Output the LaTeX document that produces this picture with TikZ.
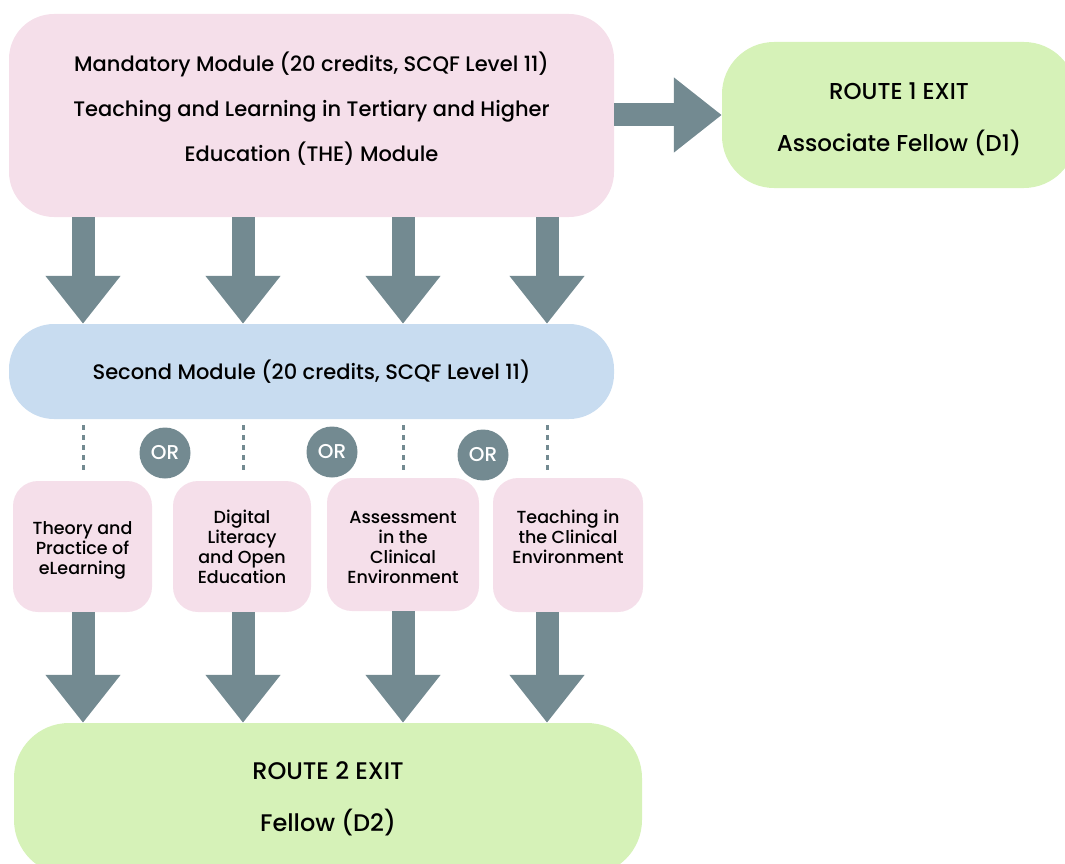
\documentclass[tikz,border=0pt]{standalone}
\usepackage{fontspec}
\setmainfont{Poppins}[UprightFont=* Medium]
\usepackage{xcolor}
\usepackage{tikz}
\usetikzlibrary{arrows.meta,positioning,calc}
\definecolor{modpink}{HTML}{F5DFEA}
\definecolor{modblue}{HTML}{C8DCF0}
\definecolor{exitgreen}{HTML}{D6F2B8}
\definecolor{arrgray}{HTML}{738A91}
\newcommand{\up}[1]{\rule{0pt}{#1}} % strut above
\newcommand{\dn}[1]{\rule[-#1]{0pt}{0pt}} % strut below
\tikzstyle{module} = [fill=modpink, rounded corners=45pt, align=center, inner sep=0pt, font=\fontsize{21}{45}\selectfont]
\tikzstyle{option} = [fill=modpink, rounded corners=25pt, align=center, inner sep=0pt, font=\fontsize{17.5}{20}\selectfont]
\tikzstyle{exit} = [fill=exitgreen, rounded corners=52pt, align=center, inner sep=0pt, font=\fontsize{23}{52}\selectfont]
\tikzstyle{line} = [draw=arrgray, line width=23pt, -{Triangle[width=72pt,length=48pt]}]
\tikzstyle{dots} = [draw=arrgray, line width=3pt, dash pattern=on 5pt off 5pt, shorten <=6pt, shorten >=8pt]
\tikzstyle{ornode} = [circle, fill=arrgray, text=white, minimum size=51pt, inner sep=0pt, font=\fontsize{20}{20}\selectfont]

\begin{document}
\begin{tikzpicture}[x=1pt,y=-1pt]
			\useasboundingbox (0,0) rectangle (1065,864);
			\clip (0,0) rectangle (1065,864);
			
			% columns of the arrows
			\coordinate (c1) at (83,0);
			\coordinate (c2) at (243,0);
			\coordinate (c3) at (403,0);
			\coordinate (c4) at (547,0);
			
			\node[module, minimum width=605pt, minimum height=203pt] (mand) at (311.5,115.5) {Mandatory Module (20 credits, SCQF Level 11)\\Teaching and Learning in Tertiary and Higher\\Education (THE) Module\dn{18pt}}; % first module
			\node[exit, minimum width=354pt, minimum height=146pt] (route1) at (899,115) {\up{24.5pt}ROUTE 1 EXIT\\Associate Fellow (D1)}; % exit 1
			\node[module, fill=modblue, minimum width=605pt, minimum height=95pt] (second) at (311.5,371.5) {Second Module (20 credits, SCQF Level 11)}; % second module
			
			% the four options
			\node[option, minimum width=139pt, minimum height=131pt] (elearn) at (82.5,546.5) {\up{21pt}Theory and\\Practice of\\eLearning};
			\node[option, minimum width=138pt, minimum height=131pt] (digital) at (242,546.5) {Digital\\Literacy\\and Open\\Education};
			\node[option, minimum width=152pt, minimum height=133pt] (assess) at (403,544.5) {\up{18pt}Assessment\\in the\\Clinical\\Environment};
			\node[option, minimum width=150pt, minimum height=134pt] (clinic) at (568,545) {\up{16pt}Teaching in\\the Clinical\\Environment\\ };
			
			\node[exit, rounded corners=55pt, minimum width=628pt, minimum height=152pt, font=\fontsize{24}{52}\selectfont] (route2) at (328,799) {ROUTE 2 EXIT\\Fellow (D2)}; % exit 2
			
			\node[ornode] (or1) at (165,453) {OR};
			\node[ornode] (or2) at (332,452) {OR};
			\node[ornode] (or3) at (483,455) {OR};
			
			% arrows
			\draw[line] (mand.east |- 0,115) -- (route1.west |- 0,115);
			\foreach \c in {c1,c2,c3,c4} {
				\draw[line] (mand.south -| \c) -- (second.north -| \c);
			}
			\draw[line] (elearn.south -| c1) -- (route2.north -| c1);
			\draw[line] (digital.south -| c2) -- (route2.north -| c2);
			\draw[line] (assess.south -| c3) -- (route2.north -| c3);
			\draw[line] (clinic.south -| c4) -- (route2.north -| c4);
			
			% dotted links
			\draw[dots] (second.south -| c1) -- (elearn.north -| c1);
			\draw[dots] (second.south -| c2) -- (digital.north -| c2);
			\draw[dots] (second.south -| c3) -- (assess.north -| c3);
			\draw[dots] (second.south -| c4) -- (clinic.north -| c4);
\end{tikzpicture}
\end{document}
